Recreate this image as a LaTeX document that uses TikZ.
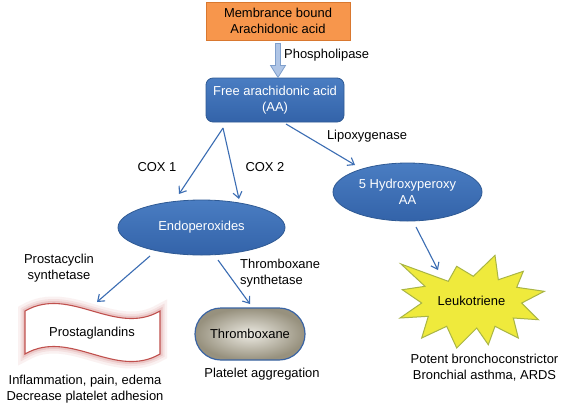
\documentclass[tikz,border=0pt]{standalone}
\usepackage{fontspec}
\setmainfont{Liberation Sans}
\usetikzlibrary{arrows.meta,shapes.geometric,shapes.misc,calc}
\definecolor{bluetop}{HTML}{4A7DC2}
\definecolor{bluebot}{HTML}{3363A9}
\definecolor{blueborder}{HTML}{2F5A94}
\definecolor{arrowblue}{HTML}{3B6DB3}
\definecolor{orangefill}{HTML}{F7964C}
\definecolor{orangeborder}{HTML}{D9782F}
\definecolor{blkfill}{HTML}{AFC5E6}
\definecolor{blkborder}{HTML}{7F9FCC}
\definecolor{tapered}{HTML}{C0504D}
\definecolor{graylight}{HTML}{ECEAE2}
\definecolor{graydark}{HTML}{97917E}
\definecolor{thrborder}{HTML}{3A64A4}
\definecolor{staryellow}{HTML}{EFEA3C}
\definecolor{starborder}{HTML}{A9B545}
\begin{document}
\begin{tikzpicture}[x=1bp,y=-1bp,
  font=\fontsize{13}{16}\selectfont,
  bluebox/.style={draw=blueborder, line width=0.8bp, top color=bluetop, bottom color=bluebot, text=white, align=center, inner sep=0pt},
  arr/.style={draw=arrowblue, line width=1.1bp, -{Straight Barb[length=6bp,width=9bp]}},
  lbl/.style={align=center, inner sep=0pt, text=black}]
\useasboundingbox[fill=white] (0,0) rectangle (562,405);

% top box
\node[draw=orangeborder, fill=orangefill, line width=0.8bp, minimum width=144bp, minimum height=38bp, align=center, inner sep=0pt] (mem) at (278,21) {Membrance bound\\Arachidonic acid};

% Free AA
\node[bluebox, rectangle, rounded corners=7bp, minimum width=138bp, minimum height=44bp] (aa) at (275,100) {Free arachidonic acid\\(AA)};

% block arrow
\draw[draw=blkborder, fill=blkfill, line width=0.8bp]
  ($(mem.south)+(-2.5,3)$) -- ++(5,0) -- ++(0,22) -- ++(5,0) -- ++(-7.5,12) -- ++(-7.5,-12) -- ++(5,0) -- cycle;
\node[lbl, anchor=west] (phos) at (284,55) {Phospholipase};

% ellipses
\node[bluebox, ellipse, minimum width=167bp, minimum height=55bp] (endo) at (201.5,227.5) {Endoperoxides};
\node[bluebox, ellipse, minimum width=149bp, minimum height=58bp] (hydro) at (407.5,192) {5 Hydroxyperoxy\\AA};

% arrows from AA
\draw[arr] ($(aa)+(-52,28)$) -- ($(endo)+(-22.5,-33.5)$);
\draw[arr] ($(aa)+(-52,28)$) -- ($(endo)+(37.5,-28.5)$);
\draw[arr] ($(aa)+(11,24)$) -- ($(hydro)+(-52.5,-27)$);

\node[lbl] (cox1) at (157,167) {COX 1};
\node[lbl] (cox2) at (265,167) {COX 2};
\node[lbl] (lipo) at (367,136) {Lipoxygenase};

\node[lbl] (pcs) at (59,268) {Prostacyclin\\synthetase};
\node[lbl, align=left, anchor=west] (txs) at (240,273.5) {Thromboxane\\synthetase};

% Prostaglandins tape with glow
\path[preaction={draw=tapered, draw opacity=0.08, line width=14bp},
      preaction={draw=tapered, draw opacity=0.10, line width=9bp},
      preaction={draw=tapered, draw opacity=0.16, line width=5bp},
      preaction={fill=white}]
  (25,311) .. controls (70,285) and (115,337) .. (160,311) -- (160,354)
  .. controls (115,380) and (70,328) .. (25,354) -- cycle;
\draw[draw=tapered, line width=1.1bp]
  (25,311) .. controls (70,285) and (115,337) .. (160,311) -- (160,354)
  .. controls (115,380) and (70,328) .. (25,354) -- cycle;
\node[lbl] (pros) at (92,333) {Prostaglandins};

% Thromboxane
\node[rounded rectangle, draw=thrborder, line width=1.2bp, inner color=graylight, outer color=graydark, minimum width=110bp, minimum height=52bp, inner sep=0pt] (thr) at (250,334) {Thromboxane};

% arrows from endoperoxides
\draw[arr] ($(endo)+(-51.5,28.5)$) -- ($(pros)+(5,-31)$);
\draw[arr] ($(endo)+(16.5,32.5)$) -- ($(thr)+(0,-30)$);

% Leukotriene star
\filldraw[fill=staryellow, draw=starborder, line width=1bp, line join=miter]
  (401,264) -- (448.3,281.3) -- (456.7,266.3) -- (473.3,276.3) -- (495,255.3)
  -- (498.3,279.7) -- (523.3,271.3) -- (516.7,287.3) -- (544.3,291.3)
  -- (521.7,303) -- (538.3,319.7) -- (513.3,318) -- (518.3,338)
  -- (495,326.3) -- (488.3,344.7) -- (476.7,328) -- (456.7,348)
  -- (446.7,326.3) -- (421.7,338) -- (428.3,316.3) -- (400,318)
  -- (421.7,303) -- (402.3,289.7) -- (425,286.3) -- cycle;
\node[lbl] (leuk) at (471.5,301) {Leukotriene};
\draw[arr] ($(hydro)+(8.5,35)$) -- ($(leuk)+(-33.5,-31)$);

% effect texts
\node[lbl] (pgeff) at (85,389) {Inflammation, pain, edema\\Decrease platelet adhesion};
\node[lbl] (txeff) at (262,374) {Platelet aggregation};
\node[lbl] (lteff) at (484.5,368) {Potent bronchoconstrictor\\Bronchial asthma, ARDS};
\end{tikzpicture}
\end{document}
